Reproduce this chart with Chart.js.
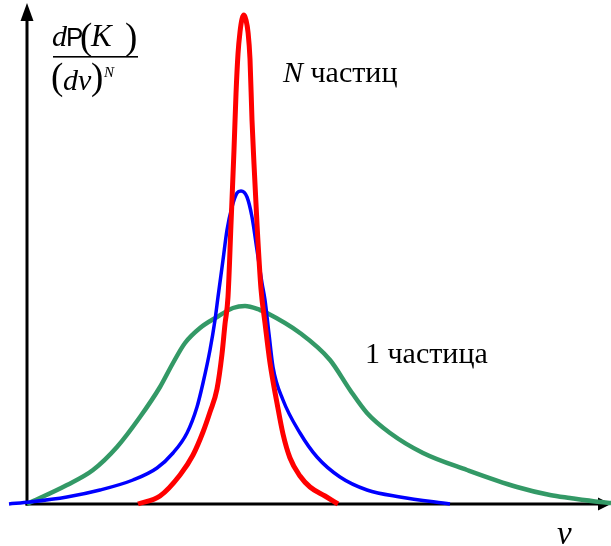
<!DOCTYPE html>
<html>
<head>
<meta charset="utf-8">
<script src="https://cdn.jsdelivr.net/npm/chart.js@4/dist/chart.umd.min.js"></script>
<style>
  html, body { margin: 0; padding: 0; background: #ffffff; }
  #wrap { width: 611px; height: 546px; }
</style>
</head>
<body>
<div id="wrap"><canvas id="c" width="611" height="546"></canvas></div>
<script>
// Velocity (horizontal) and density (vertical) values
const redV = [138,160,180,193,203,210,217,222,225,228,231,234,236,238,240,242,244,246,248,250,252,254,257,261,265,270,277,283,290,300,310,325,338];
const redP = [0,8,29,49,72,92,115,150,180,207,280,354,410,450,472,485,489,484,472,445,384,340,280,215,181,141,101,70,46,28,17,8,0];

const blueV = [9,30,67,100,133,157,173,187,197,203,210,215,218,223,227,232,237,241,247,252,257,262,265,269,273,283,300,317,340,367,400,450];
const blueP = [0,2,7,14,24,36,51,71,97,121,154,184,207,244,274,297,311,313,307,287,254,221,204,170,137,104,71,47,27,14,7,0];

const greenV = [27,67,93,117,140,160,173,185,200,217,233,245,260,267,300,330,350,367,390,423,467,517,550,570,600,611];
const greenP = [0,19,34,57,87,117,141,161,176,187,196,198,194,191,171,144,114,91,71,51,34,17,9,6,2,1];

const axisOrigin = { v: 27, p: 0 };
const labels = { many: "частиц", one: "1 частица", xTitle: "v" };

const toPts = (xs, ys) => xs.map((x, i) => ({ x: x, y: ys[i] }));

const axesPlugin = {
  id: 'axesArrows',
  beforeDatasetsDraw(chart) {
    const ctx = chart.ctx;
    const xs = chart.scales.x, ys = chart.scales.y;
    const x0 = xs.getPixelForValue(axisOrigin.v);
    const y0 = ys.getPixelForValue(axisOrigin.p);
    const right = chart.chartArea.right;
    ctx.save();
    ctx.strokeStyle = '#000';
    ctx.fillStyle = '#000';
    ctx.lineWidth = 3;
    // y axis
    ctx.beginPath();
    ctx.moveTo(x0, y0 + 1.5);
    ctx.lineTo(x0, 18);
    ctx.stroke();
    ctx.beginPath();
    ctx.moveTo(x0, 3);
    ctx.lineTo(x0 - 6.5, 21);
    ctx.lineTo(x0 + 6.5, 21);
    ctx.closePath();
    ctx.fill();
    // x axis
    ctx.beginPath();
    ctx.moveTo(x0 - 1.5, y0);
    ctx.lineTo(right - 12, y0);
    ctx.stroke();
    ctx.beginPath();
    ctx.moveTo(right, y0);
    ctx.lineTo(right - 13, y0 - 6.5);
    ctx.lineTo(right - 13, y0 + 6.5);
    ctx.closePath();
    ctx.fill();
    ctx.restore();
  },
  afterDatasetsDraw(chart) {
    const ctx = chart.ctx;
    ctx.save();
    ctx.fillStyle = '#000';
    ctx.textBaseline = 'alphabetic';
    ctx.textAlign = 'left';
    const serif = '"Liberation Serif", "DejaVu Serif", serif';
    const sans = '"Liberation Sans", Arial, sans-serif';
    // N частиц
    ctx.font = 'italic 30px ' + serif;
    ctx.fillText('N', 283, 82);
    const nw = ctx.measureText('N ').width;
    ctx.font = '30px ' + serif;
    ctx.fillText(labels.many, 283 + nw, 82);
    // 1 частица
    ctx.fillText(labels.one, 365, 363);
    // v axis title
    ctx.font = 'italic 33px ' + serif;
    ctx.fillText(labels.xTitle, 557, 544);
    // y axis title: dP(K) / (dv)^N
    ctx.font = 'italic 30px ' + serif;
    ctx.fillText('d', 52, 46);
    ctx.font = '26px ' + sans;
    ctx.fillText('P', 66, 46);
    ctx.font = '37px ' + serif;
    ctx.fillText('(', 80, 49);
    ctx.font = 'italic 31px ' + serif;
    ctx.fillText('K', 91, 46);
    ctx.font = '37px ' + serif;
    ctx.fillText(')', 125, 49);
    ctx.fillRect(53, 56, 85, 1.6);
    ctx.fillText('(', 51, 89);
    ctx.font = 'italic 30px ' + serif;
    ctx.fillText('d', 63, 90);
    ctx.fillText('v', 78, 90);
    ctx.font = '37px ' + serif;
    ctx.fillText(')', 91, 89);
    ctx.font = 'italic 15px ' + serif;
    ctx.fillText('N', 104, 77);
    ctx.restore();
  }
};

new Chart(document.getElementById('c'), {
  type: 'line',
  data: {
    datasets: [
      { label: 'N частиц', data: toPts(redV, redP), borderColor: '#ff0000', borderWidth: 5, cubicInterpolationMode: 'monotone', pointRadius: 0, fill: false, order: 1 },
      { label: 'промежуточное', data: toPts(blueV, blueP), borderColor: '#0000ff', borderWidth: 3.5, cubicInterpolationMode: 'monotone', pointRadius: 0, fill: false, order: 2 },
      { label: '1 частица', data: toPts(greenV, greenP), borderColor: '#339966', borderWidth: 4.5, cubicInterpolationMode: 'monotone', pointRadius: 0, fill: false, order: 3 }
    ]
  },
  options: {
    responsive: false,
    animation: false,
    layout: { padding: 0 },
    plugins: { legend: { display: false }, tooltip: { enabled: false }, title: { display: false } },
    scales: {
      x: { type: 'linear', min: 0, max: 611, display: false },
      y: { type: 'linear', min: -42, max: 504, display: false }
    }
  },
  plugins: [axesPlugin]
});
</script>
</body>
</html>
